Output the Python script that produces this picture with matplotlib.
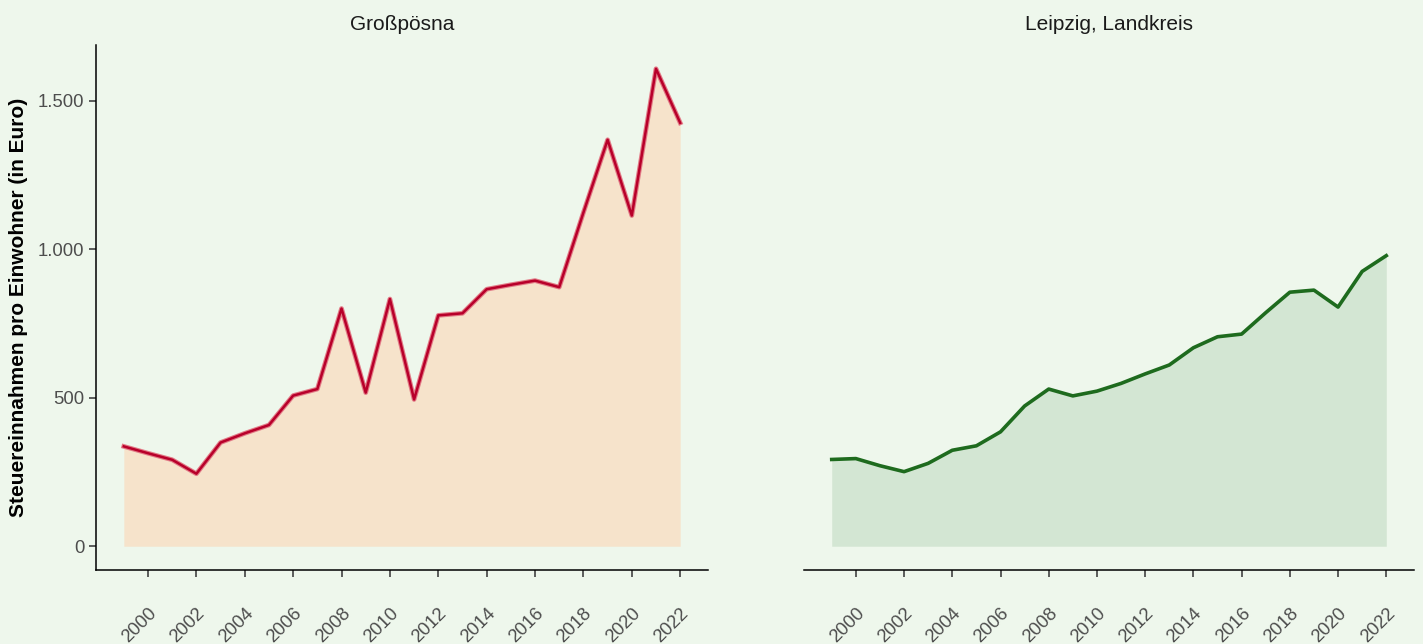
import numpy as np
import matplotlib.pyplot as plt
from matplotlib.ticker import FuncFormatter

jahre = list(range(1999, 2023))
grosspoesna = [336, 313, 291, 244, 349, 380, 408, 507, 529, 800, 517, 832, 494, 777, 784,
               865, 880, 894, 872, 1123, 1368, 1113, 1607, 1425]
landkreis = [292, 295, 271, 251, 279, 323, 338, 385, 472, 529, 506, 522, 548, 580, 610,
             668, 705, 714, 786, 855, 862, 805, 925, 978]
titel = ["Großpösna", "Leipzig, Landkreis"]

bg = '#EEF7EC'
plt.rcParams['font.family'] = ['Liberation Sans', 'DejaVu Sans']

fig = plt.figure(figsize=(14.23, 6.44), dpi=100, facecolor=bg)
ax1 = fig.add_axes([96/1423, 74/644, 612/1423, 525/644])
ax2 = fig.add_axes([804/1423, 74/644, 610/1423, 525/644])

def tausender(v, pos):
    return f"{int(v):,}".replace(",", ".")

ax1.fill_between(jahre, grosspoesna, color='#F6E3CB', lw=0)
ax1.plot(jahre, grosspoesna, color='#E27A86', lw=3.4)
ax1.plot(jahre, grosspoesna, color='#B8002A', lw=1.8)

ax2.fill_between(jahre, landkreis, color='#D3E6D3', lw=0)
ax2.plot(jahre, landkreis, color='#1E6B1E', lw=2.6)

for ax, t in zip([ax1, ax2], titel):
    ax.set_facecolor(bg)
    ax.set_xlim(1997.85, 2023.15)
    ax.set_ylim(-80, 1687)
    ax.set_xticks(range(2000, 2023, 2))
    ax.set_yticks([0, 500, 1000, 1500])
    ax.yaxis.set_major_formatter(FuncFormatter(tausender))
    ax.spines['top'].set_visible(False)
    ax.spines['right'].set_visible(False)
    ax.spines['bottom'].set_linewidth(1.1)
    ax.spines['left'].set_linewidth(1.1)
    ax.tick_params(axis='both', colors='#333333', labelcolor='#4D4D4D',
                   labelsize=13.3, length=5, width=1.1)
    ax.tick_params(axis='x', pad=20)
    plt.setp(ax.get_xticklabels(), rotation=45, ha='right', va='top',
             rotation_mode='anchor')
    ax.set_title(t, fontsize=15, color='#1A1A1A', pad=10.5)

ax2.spines['left'].set_visible(False)
ax2.tick_params(axis='y', left=False, labelleft=False)

ax1.set_ylabel("Steuereinnahmen pro Einwohner (in Euro)", fontsize=15,
               fontweight='bold', labelpad=7)

fig.savefig("out.png", dpi=100, facecolor=bg)
